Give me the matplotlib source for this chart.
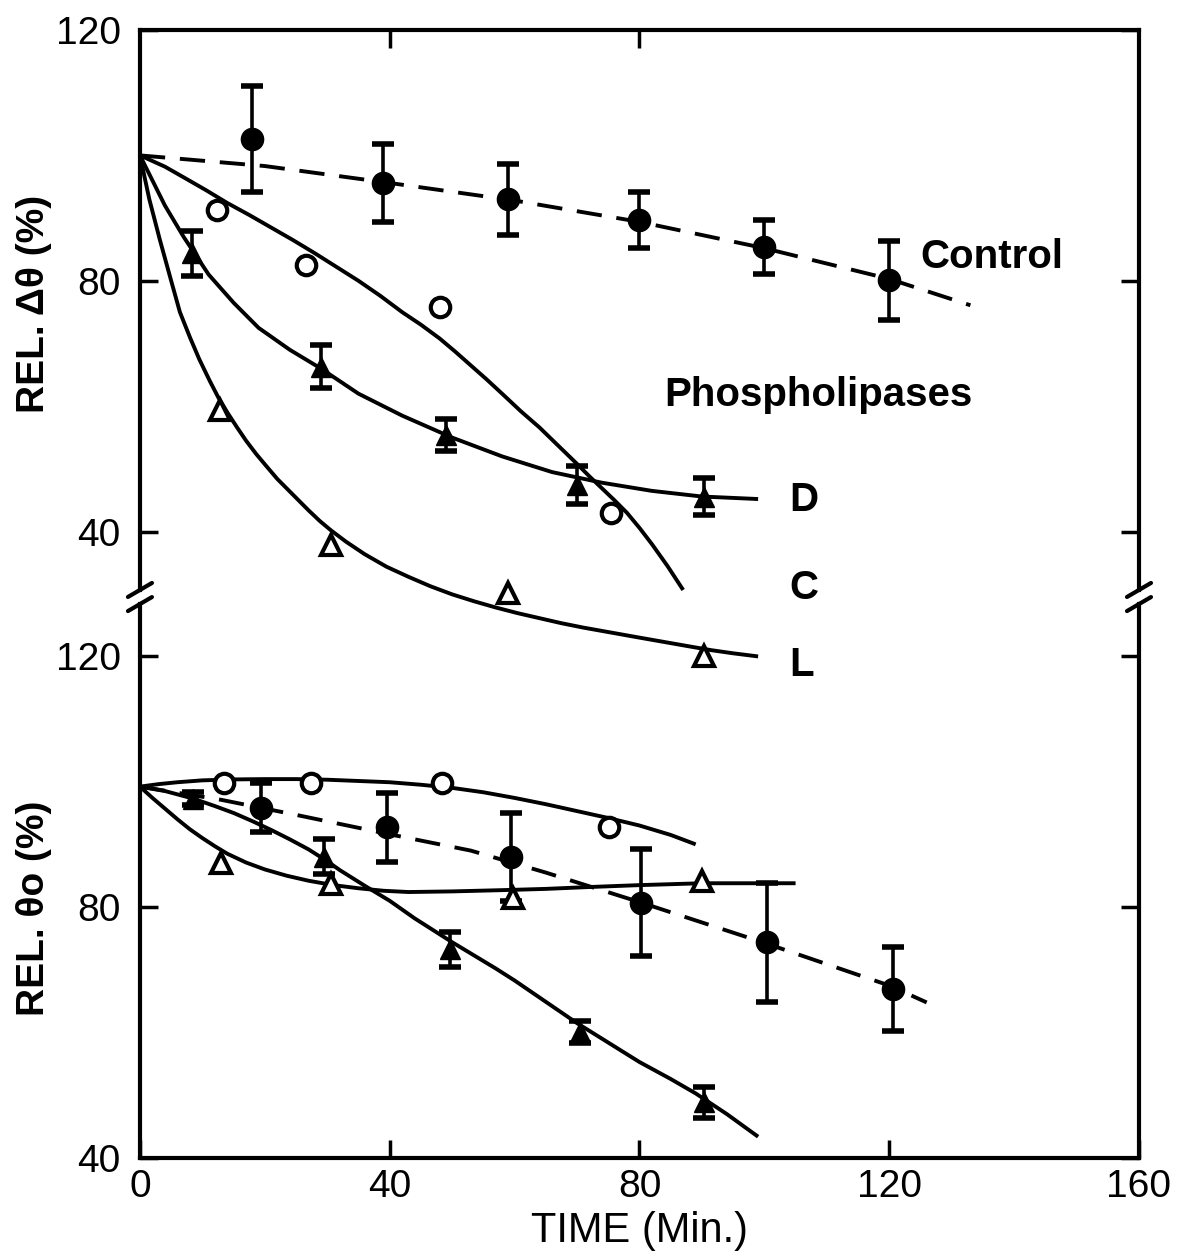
import matplotlib.pyplot as plt

plt.rcParams['font.family'] = ['Liberation Sans', 'DejaVu Sans']

# ---- upper panel: REL. delta-theta (%) ----
ctl_t = [18, 39, 59, 80, 100, 120]
ctl_up = [102.6, 95.6, 93.0, 89.7, 85.4, 80.1]
ctl_up_err = [8.4, 6.2, 5.7, 4.5, 4.3, 6.3]

d_t = [8.4, 29, 49, 70, 90.4]
d_up = [84.4, 66.3, 55.4, 47.4, 45.6]
d_up_err = [3.6, 3.4, 2.6, 3.0, 3.0]

c_t = [12.4, 26.6, 48.1, 75.4]
c_up = [91.3, 82.5, 75.8, 43.0]

l_t = [12.8, 30.6, 59.0, 90.4]
l_up = [59.4, 37.9, 30.2, 20.1]

# hand-drawn fit curves (upper)
ctl_up_fit_t = [0, 20, 40, 60, 80, 100, 120, 133]
ctl_up_fit = [100, 98.3, 95.6, 92.8, 89.4, 85.2, 80.3, 76.1]
d_up_fit_t = [0, 2, 4, 7, 11, 15, 19, 24, 29, 35, 42, 50, 58, 66, 74, 82, 90, 99]
d_up_fit = [100, 96, 92, 87, 81, 76.5, 72.5, 69, 66, 62, 58.5, 55, 52, 49.5, 47.8, 46.5, 45.6, 45.2]
c_up_fit_t = [0, 4, 7, 10.5, 14, 17.5, 21, 24.5, 28, 31.5, 35, 38.5, 42, 45, 48, 50.5, 53, 55.5, 58,
              61, 64, 67, 70, 72, 74, 76, 78, 80, 82, 84.5, 87]
c_up_fit = [100, 98.2, 96.5, 94.5, 92.4, 90.5, 88.5, 86.5, 84.4, 82.2, 80, 77.6, 75, 73, 70.8, 68.7,
            66.5, 64.3, 62, 59.2, 56.6, 53.7, 50.8, 48.8, 46.9, 45, 43, 40.6, 38, 34.5, 30.7]
l_up_fit_t = [0, 1.5, 3.2, 5, 6.4, 8, 9.5, 11.2, 12.6, 14, 15.5, 17, 18.6, 20.2, 22, 24, 25.5, 27, 28.8,
              30.6, 33, 36, 39.5, 43, 46.5, 50, 53.5, 57, 60.5, 64, 67.5, 71, 75.5, 80, 84, 88, 91.5, 95, 99]
l_up_fit = [100, 93, 86.5, 80, 75, 71, 67.5, 64, 61.3, 59, 56.7, 54.5, 52.4, 50.5, 48.4, 46.4, 44.9,
            43.4, 41.7, 40.2, 38.4, 36.4, 34.4, 32.8, 31.3, 30, 28.9, 27.9, 27, 26.2, 25.4, 24.7,
            23.9, 23.1, 22.4, 21.7, 21.1, 20.6, 20.1]

# ---- lower panel: REL. theta-o (%) ----
ctl_lo_t = [19.4, 39.5, 59.5, 80.2, 100.4, 120.6]
ctl_lo = [95.8, 92.7, 88.0, 80.7, 74.4, 66.9]
ctl_lo_err = [3.9, 5.5, 7.0, 8.5, 9.5, 6.7]

d_lo_t = [8.5, 29.5, 49.7, 70.4, 90.4]
d_lo = [97.3, 88.0, 73.3, 60.1, 48.9]
d_lo_err = [1.0, 2.8, 2.8, 1.8, 2.5]

c_lo_t = [13.5, 27.4, 48.4, 75.2]
c_lo = [99.8, 99.8, 99.8, 92.7]

l_lo_t = [13.0, 30.6, 59.8, 90.0]
l_lo = [87.1, 83.6, 81.5, 84.1]

ctl_lo_fit_t = [0, 13, 25, 40, 53, 65, 80, 100, 120, 126]
ctl_lo_fit = [99.2, 97.1, 94.7, 91.6, 89, 85.5, 80.8, 74.3, 67.5, 64.8]
d_lo_fit_t = [0, 4, 8.5, 12, 15, 18, 21, 24, 27, 30, 32, 36, 40, 44, 47, 50, 53, 57, 60, 65, 70, 75,
              80, 85, 89, 94, 99]
d_lo_fit = [99.2, 98.5, 97.3, 96.1, 95, 93.7, 92.3, 90.8, 89.2, 87.3, 85.9, 83.4, 81, 78.2, 76.3,
            74.4, 72.6, 70.2, 68.3, 64.9, 61.5, 58.4, 55.3, 52.6, 50.3, 47, 43.4]
c_lo_fit_t = [0, 3, 6, 10, 15, 20, 25, 30, 35, 40, 45, 50, 55, 60, 65, 70, 75, 80, 85, 89]
c_lo_fit = [99.2, 99.6, 99.9, 100.2, 100.35, 100.4, 100.4, 100.3, 100.1, 99.9, 99.5, 99, 98.3, 97.4,
            96.4, 95.3, 94.2, 93, 91.5, 90]
l_lo_fit_t = [0, 2, 4, 6, 8, 10, 12, 14, 17, 20, 23.5, 27, 31, 35, 39, 43, 50, 58, 65, 72, 80, 90, 105]
l_lo_fit = [99.2, 97.4, 95.7, 94, 92.4, 91, 89.7, 88.5, 87.1, 86, 85, 84.2, 83.5, 83, 82.6, 82.4, 82.5,
            82.7, 82.9, 83.2, 83.5, 83.8, 83.8]

LW = 2.8
DASH = (0, (6.5, 3.8))

fig = plt.figure(figsize=(11.83, 12.59), dpi=100)
ax_bot = fig.add_axes([0.1183, 0.0802, 0.8445, 0.4400])
ax_top = fig.add_axes([0.1183, 0.5314, 0.8445, 0.4448])
ax_top.set_zorder(3)
ax_top.patch.set_visible(False)

ebar_kw = dict(color='black', elinewidth=2.6, capsize=8, capthick=4, linestyle='none', zorder=4)
open_kw = dict(color='black', markerfacecolor='white', markeredgewidth=3, linestyle='none', zorder=5)

# upper panel
ax = ax_top
ax.plot(ctl_up_fit_t, ctl_up_fit, color='black', lw=LW, ls=DASH, clip_on=False)
for tt, yy in [(d_up_fit_t, d_up_fit), (c_up_fit_t, c_up_fit), (l_up_fit_t, l_up_fit)]:
    ax.plot(tt, yy, color='black', lw=LW, clip_on=False, solid_capstyle='butt', solid_joinstyle='round')
ax.errorbar(ctl_t, ctl_up, yerr=ctl_up_err, fmt='o', markersize=16, **ebar_kw)
ax.errorbar(d_t, d_up, yerr=d_up_err, fmt='^', markersize=15, **ebar_kw)
ax.plot(c_t, c_up, 'o', markersize=14, **open_kw)
ax.plot(l_t, l_up, '^', markersize=14, clip_on=False, **open_kw)

lab_kw = dict(fontsize=29, fontweight='bold', va='center', ha='left')
ax.text(125, 83.8, 'Control', **lab_kw)
ax.text(84, 61.8, 'Phospholipases', **lab_kw)
ax.text(104, 45.0, 'D', **lab_kw)
ax.text(104, 31.0, 'C', **lab_kw)
ax.text(104, 18.7, 'L', **lab_kw)

ax.set_xlim(0, 160)
ax.set_ylim(30.7, 120)
ax.set_yticks([40, 80, 120])
ax.set_xticks([40, 80])
ax.spines['bottom'].set_visible(False)
ax.tick_params(axis='x', bottom=False, top=True, labelbottom=False, direction='in', length=13, width=2.5)
ax.set_ylabel('REL. Δθ (%)', fontsize=28, fontweight='bold')
ax.yaxis.set_label_coords(-0.088, 0.51)

# lower panel
ax = ax_bot
ax.plot(ctl_lo_fit_t, ctl_lo_fit, color='black', lw=LW, ls=DASH)
for tt, yy in [(d_lo_fit_t, d_lo_fit), (c_lo_fit_t, c_lo_fit), (l_lo_fit_t, l_lo_fit)]:
    ax.plot(tt, yy, color='black', lw=LW, solid_capstyle='butt', solid_joinstyle='round')
ax.errorbar(ctl_lo_t, ctl_lo, yerr=ctl_lo_err, fmt='o', markersize=16, **ebar_kw)
ax.errorbar(d_lo_t, d_lo, yerr=d_lo_err, fmt='^', markersize=15, **ebar_kw)
ax.plot(c_lo_t, c_lo, 'o', markersize=14, **open_kw)
ax.plot(l_lo_t, l_lo, '^', markersize=14, **open_kw)

ax.set_xlim(0, 160)
ax.set_ylim(40, 128.3)
ax.set_yticks([40, 80, 120])
ax.set_xticks([0, 40, 80, 120, 160])
ax.spines['top'].set_visible(False)
ax.tick_params(axis='x', top=False, direction='in', length=13, width=2.5, pad=8)
ax.set_xlabel('TIME (Min.)', fontsize=30, labelpad=4)
ax.set_ylabel('REL. θo (%)', fontsize=28, fontweight='bold')
ax.yaxis.set_label_coords(-0.088, 0.45)

for ax in (ax_top, ax_bot):
    for s in ax.spines.values():
        s.set_linewidth(3)
    ax.tick_params(axis='y', left=True, right=True, direction='in', length=13, width=2.5, pad=14)
    ax.tick_params(labelsize=28)

# axis-break slashes on both side spines
for ax, yb, h in [(ax_top, 0.0, 560), (ax_bot, 1.0, 554)]:
    dx, dy = 12 / 999, 7 / h
    for xb in (0.0, 1.0):
        ax.plot([xb - dx, xb + dx], [yb - dy, yb + dy], transform=ax.transAxes,
                color='black', lw=3, clip_on=False, solid_capstyle='round')

fig.savefig('out.png', dpi=100)
